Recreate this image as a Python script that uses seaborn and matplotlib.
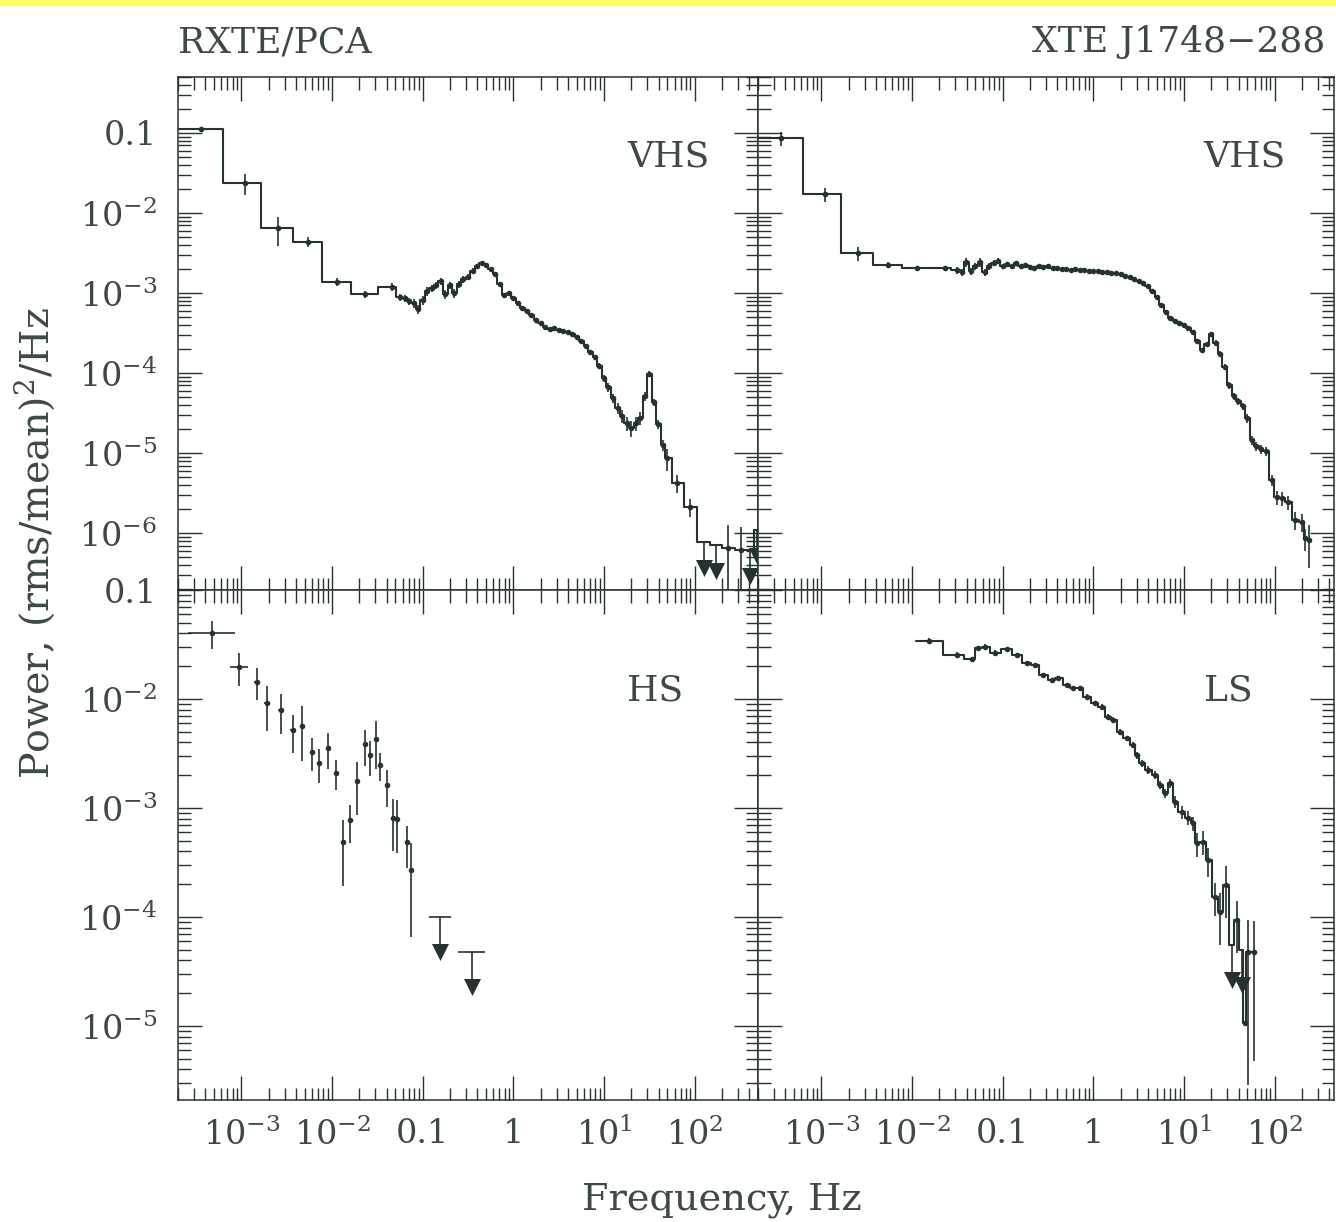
import numpy as np
import matplotlib
matplotlib.use("Agg")
import matplotlib.pyplot as plt
from matplotlib.patches import Rectangle
from matplotlib.ticker import LogLocator, FuncFormatter, NullFormatter
import seaborn as sns

# ---------------------------------------------------------------------------
# Power density spectra of XTE J1748-288 (RXTE/PCA)
# frequency in Hz, power in (rms/mean)^2/Hz
# ---------------------------------------------------------------------------

# Very high state, left column
vhs_left_freq = [
    3.58e-4, 1.10e-3, 2.51e-3, 5.39e-3, 1.13e-2, 2.31e-2, 4.56e-2,
    0.0562, 0.0631, 0.0708, 0.0794, 0.0891, 0.100, 0.112, 0.126, 0.141, 0.158,
    0.178, 0.200, 0.224, 0.251, 0.282, 0.316, 0.355, 0.398, 0.447, 0.501,
    0.562, 0.631, 0.708, 0.794, 0.891, 1.00, 1.12, 1.26, 1.41, 1.58,
    1.78, 2.00, 2.24, 2.51, 2.82, 3.16, 3.55, 3.98, 4.47, 5.01,
    5.62, 6.31, 7.08, 7.94, 8.91, 10.0, 11.2, 12.6, 14.1, 15.8,
    17.8, 20.0, 22.4, 25.1, 28.2, 31.6, 35.5, 39.8, 44.7,
    49.2, 63.7, 89.3, 235.0, 326.6,
]
vhs_left_power = [
    0.111, 0.0239, 6.42e-3, 4.37e-3, 1.38e-3, 9.6e-4, 1.20e-3,
    8.89e-4, 8.65e-4, 7.93e-4, 7.48e-4, 6.30e-4, 8.16e-4, 1.057e-3, 1.153e-3, 1.257e-3, 1.41e-3,
    9.7e-4, 1.257e-3, 9.98e-4, 1.294e-3, 1.494e-3, 1.58e-3, 1.88e-3, 2.17e-3, 2.37e-3, 2.23e-3,
    1.99e-3, 1.73e-3, 1.294e-3, 9.42e-4, 9.98e-4, 8.65e-4, 7.48e-4, 6.49e-4, 5.94e-4, 5.30e-4,
    4.59e-4, 4.21e-4, 3.75e-4, 3.54e-4, 3.65e-4, 3.44e-4, 3.34e-4, 3.25e-4, 3.07e-4, 2.81e-4,
    2.51e-4, 2.17e-4, 1.83e-4, 1.58e-4, 1.22e-4, 8.65e-5, 6.67e-5, 4.86e-5, 3.65e-5, 2.90e-5,
    2.37e-5, 2.05e-5, 2.37e-5, 2.74e-5, 5.15e-5, 9.7e-5, 4.34e-5, 2.30e-5, 1.257e-5,
    8.65e-6, 4.21e-6, 2.11e-6, 6.48e-7, 6.11e-7,
]
vhs_left_relerr = [
    0.07, 0.29, 0.39, 0.14, 0.11, 0.10, 0.125,
    0.10, 0.10, 0.10, 0.12, 0.14, 0.12, 0.12, 0.10, 0.10, 0.10,
    0.12, 0.10, 0.12, 0.10, 0.10, 0.08, 0.08, 0.06, 0.06, 0.06,
    0.06, 0.06, 0.07, 0.07, 0.06, 0.05, 0.05, 0.05, 0.05, 0.05,
    0.05, 0.05, 0.05, 0.05, 0.05, 0.05, 0.05, 0.05, 0.05, 0.05,
    0.05, 0.05, 0.06, 0.06, 0.08, 0.10, 0.12, 0.14, 0.16, 0.18,
    0.20, 0.22, 0.20, 0.18, 0.12, 0.08, 0.10, 0.12, 0.15,
    0.30, 0.25, 0.25, 0.93, 0.95,
]
vhs_left_ul_freq = [125.3, 173.0, 411.0, 486.0]
vhs_left_ul_power = [7.77e-7, 7.06e-7, 6.11e-7, 1.09e-6]

# Very high state, right column
vhs_right_freq = [
    3.58e-4, 1.09e-3, 2.51e-3, 5.39e-3, 1.13e-2, 2.31e-2,
    0.0316, 0.0355, 0.0398, 0.0447, 0.0501, 0.0562, 0.0631, 0.0708, 0.0794, 0.0891,
    0.100, 0.112, 0.126, 0.141, 0.158, 0.178, 0.200, 0.224, 0.251, 0.282,
    0.316, 0.355, 0.398, 0.447, 0.501, 0.562, 0.631, 0.708, 0.794, 0.891,
    1.00, 1.12, 1.26, 1.41, 1.58, 1.78, 2.00, 2.24, 2.51, 2.82,
    3.16, 3.55, 3.98, 4.47, 5.01, 5.62, 6.31, 7.08, 7.94, 8.91,
    10.0, 11.2, 12.6, 14.1, 15.8, 17.8, 20.0, 22.4, 25.1, 28.2,
    31.6, 35.5, 39.8, 44.7, 50.1, 56.2, 63.1, 70.8, 79.4,
    93.3, 105.9, 120.2, 142.2, 168.7, 200.0, 217.8, 236.6,
]
vhs_right_power = [
    0.0857, 0.0171, 3.13e-3, 2.23e-3, 2.03e-3, 2.05e-3,
    1.934e-3, 1.826e-3, 2.435e-3, 1.879e-3, 2.17e-3, 2.435e-3, 1.826e-3, 2.17e-3, 2.366e-3, 2.506e-3,
    2.17e-3, 2.298e-3, 2.17e-3, 2.366e-3, 2.17e-3, 2.234e-3, 2.109e-3, 2.049e-3, 2.17e-3, 2.109e-3,
    2.17e-3, 2.049e-3, 2.049e-3, 1.991e-3, 1.991e-3, 1.934e-3, 1.991e-3, 1.934e-3, 1.934e-3, 1.879e-3,
    1.879e-3, 1.879e-3, 1.826e-3, 1.826e-3, 1.774e-3, 1.774e-3, 1.724e-3, 1.627e-3, 1.581e-3, 1.493e-3,
    1.409e-3, 1.330e-3, 1.220e-3, 1.057e-3, 8.89e-4, 7.06e-4, 5.77e-4, 4.86e-4, 4.46e-4, 4.21e-4,
    3.97e-4, 3.64e-4, 3.25e-4, 2.51e-4, 1.934e-4, 2.298e-4, 3.066e-4, 2.366e-4, 1.724e-4, 1.186e-4,
    7.06e-5, 5.15e-5, 4.46e-5, 3.86e-5, 2.73e-5, 1.45e-5, 1.221e-5, 1.12e-5, 1.057e-5,
    4.59e-6, 2.81e-6, 2.73e-6, 2.43e-6, 1.45e-6, 1.37e-6, 8.64e-7, 8.15e-7,
]
vhs_right_relerr = [
    0.19, 0.19, 0.19, 0.09, 0.05, 0.05,
    0.10, 0.10, 0.12, 0.10, 0.10, 0.12, 0.10, 0.10, 0.08, 0.08,
    0.07, 0.06, 0.06, 0.05, 0.05, 0.05, 0.04, 0.04, 0.04, 0.04,
    0.04, 0.04, 0.04, 0.04, 0.04, 0.04, 0.04, 0.04, 0.04, 0.04,
    0.04, 0.04, 0.04, 0.04, 0.04, 0.04, 0.04, 0.04, 0.04, 0.04,
    0.04, 0.04, 0.04, 0.04, 0.04, 0.05, 0.05, 0.05, 0.05, 0.05,
    0.05, 0.05, 0.06, 0.06, 0.07, 0.07, 0.07, 0.08, 0.08, 0.08,
    0.10, 0.10, 0.10, 0.10, 0.12, 0.12, 0.12, 0.14, 0.14,
    0.15, 0.20, 0.20, 0.20, 0.25, 0.25, 0.30, 0.55,
]

# Hard state, left column (unbinned crosses)
hs_freq = [4.70e-4, 9.48e-4, 1.47e-3, 1.90e-3, 2.73e-3, 3.68e-3, 4.70e-3, 5.97e-3,
           7.24e-3, 9.10e-3, 0.0110, 0.0131, 0.0158, 0.0190, 0.0231, 0.0262,
           0.0305, 0.0339, 0.0401, 0.0468, 0.0525, 0.0667, 0.0738]
hs_power = [0.0401, 0.0198, 0.0144, 9.14e-3, 7.93e-3, 5.2e-3, 5.69e-3, 3.29e-3,
            2.61e-3, 3.57e-3, 2.11e-3, 4.84e-4, 7.76e-4, 1.77e-3, 3.84e-3, 3.06e-3,
            4.27e-3, 2.48e-3, 1.63e-3, 8.05e-4, 7.87e-4, 4.84e-4, 2.70e-4]
hs_err = [0.0115, 0.0066, 0.0047, 0.0040, 0.0032, 0.0020, 0.0030, 0.0011,
          0.0009, 0.0013, 0.00065, 0.00029, 0.0003, 0.0009, 0.0014, 0.0011,
          0.0020, 0.0007, 0.0006, 0.0004, 0.0004, 0.0002, 0.000205]
hs_dlogf = [0.26, 0.10, 0.03, 0.03, 0.03, 0.03, 0.03, 0.02,
            0.02, 0.02, 0.02, 0.02, 0.02, 0.02, 0.02, 0.02,
            0.02, 0.02, 0.02, 0.02, 0.02, 0.02, 0.02]
hs_ul_freq = [0.156, 0.348]
hs_ul_power = [1.0e-4, 4.81e-5]
hs_ul_dlogf = [0.12, 0.15]

# Low state, right column
ls_freq = [0.01552, 0.0311, 0.0456, 0.0539, 0.0639, 0.0824, 0.111, 0.143, 0.1845,
           0.2277, 0.281, 0.348, 0.412, 0.510, 0.603, 0.7145, 0.847, 1.046,
           1.24, 1.467, 1.665, 1.975, 2.342, 2.77, 3.02, 3.43, 4.05,
           4.81, 5.46, 6.20, 7.04, 7.99, 9.48, 11.2, 12.7, 13.9,
           16.4, 18.6, 22.1, 25.1, 29.2, 38.3, 46.7, 51.1, 58.5]
ls_power = [0.03426, 0.02534, 0.02312, 0.02918, 0.0302, 0.0266, 0.02857, 0.02534, 0.02126,
            0.0205, 0.0166, 0.01494, 0.01549, 0.01344, 0.01253, 0.01253, 0.0105, 9.13e-3,
            8.50e-3, 6.88e-3, 6.42e-3, 5.01e-3, 4.36e-3, 3.79e-3, 3.06e-3, 2.57e-3, 2.23e-3,
            2.01e-3, 1.63e-3, 1.36e-3, 1.69e-3, 1.14e-3, 9.19e-4, 8.18e-4, 7.24e-4, 4.74e-4,
            4.91e-4, 3.33e-4, 1.53e-4, 1.12e-4, 1.97e-4, 9.38e-5, 1.07e-5, 4.81e-5, 4.81e-5]
ls_relerr = [0.06, 0.06, 0.06, 0.06, 0.05, 0.05, 0.05, 0.05, 0.05,
             0.05, 0.05, 0.05, 0.05, 0.05, 0.05, 0.05, 0.05, 0.05,
             0.05, 0.06, 0.06, 0.06, 0.06, 0.07, 0.07, 0.07, 0.08,
             0.08, 0.09, 0.10, 0.10, 0.12, 0.13, 0.14, 0.15, 0.25,
             0.25, 0.30, 0.33, 0.50, 0.50, 0.50, 0.0, 0.94, 0.90]
ls_ul_freq = [33.8, 43.5]
ls_ul_power = [5.53e-5, 4.98e-5]

panel_labels = ["VHS", "VHS", "HS", "LS"]

# ---------------------------------------------------------------------------
# styling
# ---------------------------------------------------------------------------
INK = "#263131"
TEXT = "#3e4848"
FS = 26
TICK_FS = 24
ARROW_DROP = 2.1

sns.set_style("ticks")
plt.rcParams.update({
    "font.family": ["DejaVu Serif"],
    "mathtext.fontset": "dejavuserif",
    "font.size": FS,
    "axes.edgecolor": INK,
    "axes.linewidth": 1.1,
    "xtick.color": INK,
    "ytick.color": INK,
    "xtick.labelcolor": TEXT,
    "ytick.labelcolor": TEXT,
    "text.color": TEXT,
})

W, H = 1336, 1222
fig = plt.figure(figsize=(W / 100, H / 100), dpi=100)
fig.patch.set_facecolor("white")
fig.patches.append(Rectangle((0, 1 - 6 / H), 1, 6 / H, transform=fig.transFigure,
                             facecolor="#ffff66", edgecolor="none", zorder=10))


def px_axes(x0, y0, x1, y1):
    return fig.add_axes([x0 / W, 1 - y1 / H, (x1 - x0) / W, (y1 - y0) / H])


ax_tl = px_axes(178, 77, 758, 590)
ax_tr = px_axes(758, 77, 1334, 590)
ax_bl = px_axes(178, 590, 758, 1100)
ax_br = px_axes(758, 590, 1334, 1100)
axes = [ax_tl, ax_tr, ax_bl, ax_br]


def tick_label(v, pos):
    e = int(round(np.log10(v)))
    if e == -1:
        return "0.1"
    if e == 0:
        return "1"
    return r"$10^{%d}$" % e


for ax in axes:
    ax.set_xscale("log")
    ax.set_yscale("log")
    ax.set_facecolor("white")

ax_tl.set_xlim(2e-4, 500)
ax_bl.set_xlim(2e-4, 500)
ax_tr.set_xlim(2e-4, 452)
ax_br.set_xlim(2e-4, 452)
ax_tl.set_ylim(1.95e-7, 0.5)
ax_tr.set_ylim(1.95e-7, 0.5)
ax_bl.set_ylim(2.1e-6, 0.1)
ax_br.set_ylim(2.1e-6, 0.1)


def step_edges(freq):
    lf = np.log10(freq)
    mid = 0.5 * (lf[:-1] + lf[1:])
    return 10 ** np.concatenate([[2 * lf[0] - mid[0]], mid, [2 * lf[-1] - mid[-1]]])


def draw_limits(ax, freq, power):
    freq = np.asarray(freq, float)
    power = np.asarray(power, float)
    tip = power / ARROW_DROP
    ax.vlines(freq, tip, power, color=INK, lw=1.2, zorder=3)
    ax.scatter(freq, tip, marker="v", s=150, color=INK, linewidths=0,
               zorder=5, clip_on=False)


def draw_binned(ax, freq, power, relerr, ul_freq=(), ul_power=()):
    freq = np.asarray(freq, float)
    power = np.asarray(power, float)
    relerr = np.asarray(relerr, float)
    f_all = np.concatenate([freq, np.asarray(ul_freq, float)])
    p_all = np.concatenate([power, np.asarray(ul_power, float)])
    order = np.argsort(f_all)
    f_all, p_all = f_all[order], p_all[order]
    edges = step_edges(f_all)
    sns.lineplot(x=edges, y=np.append(p_all, p_all[-1]), drawstyle="steps-post",
                 estimator=None, sort=False, color=INK, lw=1.5, ax=ax)
    err = power * relerr
    lower = np.maximum(power - err, power * 1e-4)
    ax.vlines(freq, lower, power + err, color=INK, lw=1.2, zorder=3)
    sns.scatterplot(x=freq, y=power, s=16, color=INK, linewidth=0, ax=ax,
                    legend=False, zorder=4)
    if len(ul_freq):
        draw_limits(ax, ul_freq, ul_power)


draw_binned(ax_tl, vhs_left_freq, vhs_left_power, vhs_left_relerr,
            vhs_left_ul_freq, vhs_left_ul_power)
draw_binned(ax_tr, vhs_right_freq, vhs_right_power, vhs_right_relerr)
draw_binned(ax_br, ls_freq, ls_power, ls_relerr, ls_ul_freq, ls_ul_power)

# hard state: crosses with frequency and power error bars
f = np.asarray(hs_freq)
p = np.asarray(hs_power)
e = np.asarray(hs_err)
d = np.asarray(hs_dlogf)
ax_bl.errorbar(f, p, xerr=[f - f * 10 ** -d, f * 10 ** d - f],
               yerr=[p - np.maximum(p - e, p * 1e-4), e],
               fmt="none", ecolor=INK, elinewidth=1.2, capsize=0, zorder=3)
sns.scatterplot(x=f, y=p, s=16, color=INK, linewidth=0, ax=ax_bl, legend=False, zorder=4)
uf = np.asarray(hs_ul_freq)
ud = np.asarray(hs_ul_dlogf)
ax_bl.hlines(hs_ul_power, uf * 10 ** -ud, uf * 10 ** ud, color=INK, lw=1.2)
draw_limits(ax_bl, hs_ul_freq, hs_ul_power)

# axes decoration
for i, ax in enumerate(axes):
    for axis in (ax.xaxis, ax.yaxis):
        axis.set_major_locator(LogLocator(base=10, numticks=30))
        axis.set_minor_locator(LogLocator(base=10, subs=np.arange(2, 10), numticks=30))
        axis.set_major_formatter(FuncFormatter(tick_label))
        axis.set_minor_formatter(NullFormatter())
    ax.tick_params(which="both", direction="in", top=True, right=True,
                   bottom=True, left=True, width=1.0)
    ax.tick_params(which="major", length=17, labelsize=TICK_FS, pad=13)
    ax.tick_params(which="minor", length=9)
    ax.tick_params(axis="y", which="major", pad=15)
    for s in ax.spines.values():
        s.set_visible(True)
        s.set_color(INK)
        s.set_linewidth(1.1)
    ax.set_xlabel("")
    ax.set_ylabel("")
    top_row = i < 2
    ax.tick_params(labelbottom=not top_row, labelleft=(i % 2 == 0))
    ax.text(0.774, 0.8265 if top_row else 0.7824, panel_labels[i],
            transform=ax.transAxes, ha="left", va="baseline", fontsize=FS, color=TEXT)

fig.text(178 / W, 1 - 52 / H, "RXTE/PCA", ha="left", va="baseline", fontsize=FS)
fig.text(1325 / W, 1 - 52 / H, "XTE J1748\u2212288", ha="right", va="baseline", fontsize=FS)
fig.text(722 / W, 1 - 1200 / H, "Frequency, Hz", ha="center", va="center", fontsize=27.5)
fig.text(35 / W, 1 - 543 / H, r"Power, (rms/mean)$^2$/Hz", rotation=90,
         ha="center", va="center", fontsize=28.5)

fig.savefig("out.png", dpi=100, facecolor="white")
